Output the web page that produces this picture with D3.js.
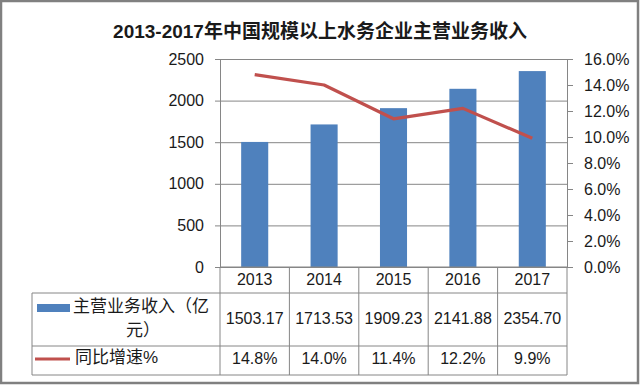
<!DOCTYPE html>
<html><head><meta charset="utf-8">
<script src="https://cdn.jsdelivr.net/npm/d3@7"></script>
<style>
html,body{margin:0;padding:0;background:#fff;}
text{font-family:"Liberation Sans","Noto Sans CJK SC",sans-serif;fill:#1a1a1a;}
</style></head>
<body>
<svg id="c" width="640" height="385"></svg>
<script>
const title = "2013-2017年中国规模以上水务企业主营业务收入";
const years = ["2013","2014","2015","2016","2017"];
const revenue = [1503.17, 1713.53, 1909.23, 2141.88, 2354.70];
const growth = [14.8, 14.0, 11.4, 12.2, 9.9];
const revenueLabels = ["1503.17","1713.53","1909.23","2141.88","2354.70"];
const growthLabels = ["14.8%","14.0%","11.4%","12.2%","9.9%"];
const leftTicks = [0,500,1000,1500,2000,2500];
const rightTicks = [0,2,4,6,8,10,12,14,16];
const seriesNames = ["主营业务收入（亿", "元）", "同比增速%"];

const svg = d3.select("#c");
const L = 220, R = 567, T = 59, B = 267;
const tableLeft = 32, row1 = 293, row2 = 346, tableBottom = 375;
const gray = "#868686";

// outer frame
svg.append("rect").attr("x",1).attr("y",1).attr("width",637).attr("height",382)
  .attr("fill","none").attr("stroke","#808080").attr("stroke-width",2.5);

svg.append("text").attr("x",320).attr("y",33).attr("text-anchor","middle")
  .attr("dominant-baseline","middle").attr("font-size",19).attr("font-weight","bold")
  .text(title);

const x = d3.scaleBand().domain(years).range([L,R]).paddingInner(0.61).paddingOuter(0.305);
const xc = d3.scaleBand().domain(years).range([L,R]);
const yL = d3.scaleLinear().domain([0,2500]).range([B,T]);
const yR = d3.scaleLinear().domain([0,16]).range([B,T]);

// gridlines
const grid = svg.append("g").attr("transform",`translate(${L},0)`)
  .call(d3.axisLeft(yL).tickValues(leftTicks).tickSize(-(R-L)).tickFormat(""));
grid.select(".domain").remove();
grid.selectAll("line").attr("stroke",gray);

// bars
svg.append("g").selectAll("rect").data(revenue).join("rect")
  .attr("x",(d,i)=>x(years[i])).attr("width",x.bandwidth())
  .attr("y",d=>yL(d)).attr("height",d=>B-yL(d)).attr("fill","#4F81BD");

// line
svg.append("path").datum(growth)
  .attr("d", d3.line().x((d,i)=>xc(years[i])+xc.bandwidth()/2).y(d=>yR(d)))
  .attr("fill","none").attr("stroke","#C0504D").attr("stroke-width",3.2).attr("stroke-linejoin","round");

// left axis
const ax = svg.append("g").attr("transform",`translate(${L},0)`)
  .call(d3.axisLeft(yL).tickValues(leftTicks).tickSize(5).tickSizeOuter(0).tickPadding(11)
    .tickFormat(d3.format("d")));
ax.selectAll("line,path").attr("stroke",gray);
ax.selectAll("text").attr("font-size",16).attr("fill","#1a1a1a");

// right axis
const ar = svg.append("g").attr("transform",`translate(${R},0)`)
  .call(d3.axisRight(yR).tickValues(rightTicks).tickSize(6).tickSizeOuter(0).tickPadding(11)
    .tickFormat(d=>d.toFixed(1)+"%"));
ar.selectAll("line,path").attr("stroke",gray);
ar.selectAll("text").attr("font-size",16).attr("fill","#1a1a1a");

// x axis line
svg.append("line").attr("x1",L).attr("x2",R).attr("y1",B).attr("y2",B).attr("stroke",gray);

// table lines
const tl = svg.append("g").attr("stroke",gray).attr("stroke-width",1);
years.concat(["end"]).forEach((yr,i)=>{
  const xx = yr==="end" ? R : xc(yr);
  tl.append("line").attr("x1",xx).attr("x2",xx).attr("y1",B).attr("y2",tableBottom);
});
tl.append("line").attr("x1",tableLeft).attr("x2",tableLeft).attr("y1",row1).attr("y2",tableBottom);
[row1,row2,tableBottom].forEach(yy=>{
  tl.append("line").attr("x1",tableLeft).attr("x2",R).attr("y1",yy).attr("y2",yy);
});

// header labels
svg.append("g").selectAll("text").data(years).join("text")
  .attr("x",d=>xc(d)+xc.bandwidth()/2).attr("y",281).attr("text-anchor","middle")
  .attr("dominant-baseline","middle").attr("font-size",16).text(d=>d);
svg.append("g").selectAll("text").data(revenueLabels).join("text")
  .attr("x",(d,i)=>xc(years[i])+xc.bandwidth()/2).attr("y",320).attr("text-anchor","middle")
  .attr("dominant-baseline","middle").attr("font-size",16).text(d=>d);
svg.append("g").selectAll("text").data(growthLabels).join("text")
  .attr("x",(d,i)=>xc(years[i])+xc.bandwidth()/2).attr("y",360).attr("text-anchor","middle")
  .attr("dominant-baseline","middle").attr("font-size",16).text(d=>d);

// legend keys
svg.append("rect").attr("x",37).attr("y",304).attr("width",33).attr("height",8).attr("fill","#4F81BD");
svg.append("line").attr("x1",35).attr("x2",70).attr("y1",359).attr("y2",359)
  .attr("stroke","#C0504D").attr("stroke-width",3.2);
svg.append("text").attr("x",73).attr("y",308).attr("dominant-baseline","middle")
  .attr("font-size",17).text(seriesNames[0]);
svg.append("text").attr("x",143).attr("y",332).attr("text-anchor","middle").attr("dominant-baseline","middle")
  .attr("font-size",17).text(seriesNames[1]);
svg.append("text").attr("x",75).attr("y",359).attr("dominant-baseline","middle")
  .attr("font-size",17).text(seriesNames[2]);
</script>
</body></html>
